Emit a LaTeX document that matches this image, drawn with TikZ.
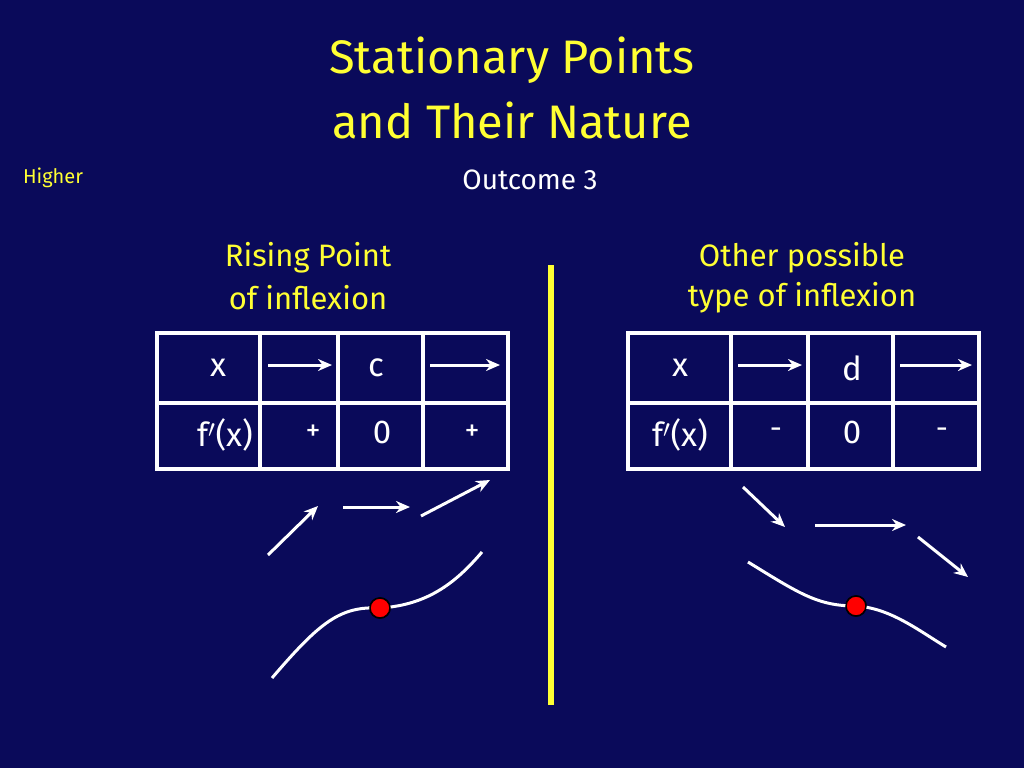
\documentclass[tikz,border=0pt]{standalone}
\usepackage{fontspec}
\setmainfont{Fira Sans}
\usetikzlibrary{arrows.meta}
\definecolor{bg}{HTML}{0A0A5A}
\definecolor{yl}{HTML}{FFFF33}
\begin{document}
\begin{tikzpicture}[x=1pt,y=-1pt,
  tl/.style={yl,font=\fontsize{47}{50}\selectfont},
  hd/.style={yl,font=\fontsize{31}{34}\selectfont},
  cell/.style={white,font=\fontsize{33}{36}\selectfont},
  sm/.style={white,font=\fontsize{30}{32}\selectfont},
  grid/.style={white,line width=3.5pt},
  arr/.style={white,line width=3pt,-{Stealth[length=14pt,width=12pt]}},
  crv/.style={white,line width=3pt},
  dot/.style={circle,fill=red,draw=black,line width=1.5pt,minimum size=20pt,inner sep=0pt}]
\fill[bg] (0,0) rectangle (1024,768);
\useasboundingbox (0,0) rectangle (1024,768);
\node[tl] (t1) at (512,60) {Stationary Points};
\node[tl] (t2) at (512,120) {and Their Nature};
\node[white,font=\fontsize{28}{32}\selectfont] (oc) at (530,180) {Outcome 3};
\node[yl,font=\fontsize{20}{24}\selectfont] (hi) at (53,178) {Higher};
\node[hd] (l1) at (308,258) {Rising Point};
\node[hd] (l2) at (308,298) {of inflexion};
\node[hd] (r1) at (802,258) {Other possible};
\node[hd] (r2) at (802,298) {type of inflexion};
\draw[yl,line width=6pt] (551,265) -- (551,705);
% left table
\draw[grid] (157,333) rectangle (508,469);
\draw[grid] (157,403) -- (508,403);
\foreach \c in {260,338,423} \draw[grid] (\c,333) -- (\c,469);
\node[cell] (lx) at (218,368) {x};
\node[cell] (lc) at (376,368) {c};
\coordinate (la1) at (268,365); \coordinate (lb1) at (332,365);
\coordinate (la2) at (430,365); \coordinate (lb2) at (500,365);
\draw[arr] (la1) -- (lb1); \draw[arr] (la2) -- (lb2);
\node[cell] (lf) at (225,435) {f$'$(x)};
\node[sm] (lp1) at (313,433) {+};
\node[cell] (l0) at (382,432) {0};
\node[sm] (lp2) at (472,433) {+};
% right table
\draw[grid] (628,333) rectangle (979,469);
\draw[grid] (628,403) -- (979,403);
\foreach \c in {731,808,893} \draw[grid] (\c,333) -- (\c,469);
\node[cell] (rx) at (680,368) {x};
\node[cell] (rd) at (852,368) {d};
\coordinate (ra1) at (738,365); \coordinate (rb1) at (802,365);
\coordinate (ra2) at (900,365); \coordinate (rb2) at (972,365);
\draw[arr] (ra1) -- (rb1); \draw[arr] (ra2) -- (rb2);
\node[cell] (rf) at (680,435) {f$'$(x)};
\node[sm] (rm1) at (776,433) {-};
\node[cell] (r0) at (852,432) {0};
\node[sm] (rm2) at (942,433) {-};
% left sketch
\coordinate (a1) at (268,555); \coordinate (a2) at (318,506);
\coordinate (a3) at (343,507); \coordinate (a4) at (410,507);
\coordinate (a5) at (421,516); \coordinate (a6) at (490,480);
\draw[arr] (a1) -- (a2); \draw[arr] (a3) -- (a4); \draw[arr] (a5) -- (a6);
\coordinate (cs) at (272,678); \coordinate (ce) at (482,552);
\node[dot] (ld) at (380,608) {};
\draw[crv] (cs) .. controls (320,622) and (340,606) .. (ld.center) .. controls (430,605) and (458,580) .. (ce);
\node[dot] at (380,608) {};
% right sketch
\coordinate (b1) at (743,487); \coordinate (b2) at (785,527);
\coordinate (b3) at (815,525); \coordinate (b4) at (906,525);
\coordinate (b5) at (918,537); \coordinate (b6) at (968,577);
\draw[arr] (b1) -- (b2); \draw[arr] (b3) -- (b4); \draw[arr] (b5) -- (b6);
\coordinate (ds) at (748,562); \coordinate (de) at (946,647);
\node[dot] (rdt) at (856,606) {};
\draw[crv] (ds) .. controls (800,594) and (818,606) .. (rdt.center) .. controls (890,608) and (918,630) .. (de);
\node[dot] at (856,606) {};
\end{tikzpicture}
\end{document}
